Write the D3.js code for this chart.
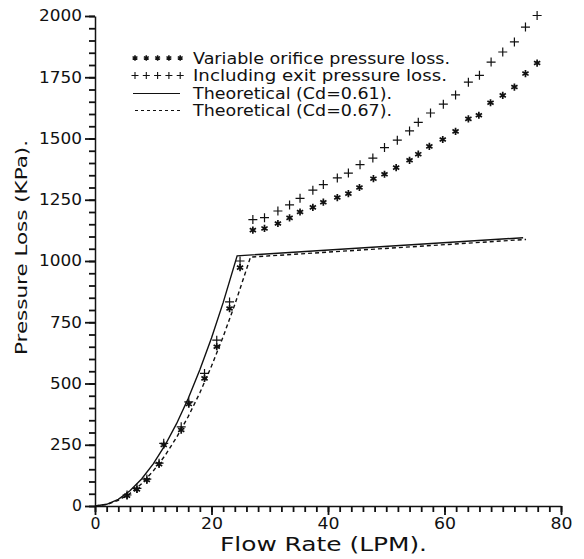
<!DOCTYPE html>
<html>
<head>
<meta charset="utf-8">
<script src="https://cdn.jsdelivr.net/npm/d3@7"></script>
<style>
	body { margin: 0; background: #fff; }
	text { font-family: "DejaVu Sans", sans-serif; fill: #111; }
</style>
</head>
<body>
<div id="chart"></div>
<script>
//Flow rate (LPM) and pressure loss (KPa)
var starFlow = [5.5, 7.2, 8.9, 11.0, 11.8, 14.8, 16.1, 18.8, 20.9, 23.1, 24.9,
	27.1, 29.1, 31.4, 33.4, 35.2, 37.4, 39.2, 41.6, 43.5, 45.4, 47.8, 49.7, 51.7, 54.0,
	55.5, 57.4, 59.7, 61.9, 64.1, 65.9, 67.9, 70.0, 72.0, 73.9, 75.9];
var starLoss = [42, 68, 106, 171, 249, 310, 416, 521, 650, 806, 973,
	1126, 1133, 1153, 1176, 1200, 1219, 1240, 1259, 1275, 1300, 1336, 1354, 1381, 1411,
	1436, 1468, 1496, 1529, 1580, 1595, 1646, 1676, 1710, 1765, 1808];

var plusFlow = [5.5, 7.2, 8.9, 11.0, 11.8, 14.8, 16.1, 18.8, 20.9, 23.1, 24.9,
	27.1, 29.1, 31.4, 33.4, 35.2, 37.4, 39.2, 41.6, 43.5, 45.5, 47.7, 49.7, 51.9, 54.0,
	55.5, 57.6, 59.8, 61.9, 64.1, 66.0, 68.0, 70.0, 72.0, 73.9, 75.9];
var plusLoss = [45, 72, 110, 175, 256, 323, 425, 541, 677, 833, 1000,
	1169, 1177, 1204, 1229, 1256, 1289, 1312, 1339, 1359, 1393, 1420, 1463, 1493, 1531,
	1566, 1604, 1640, 1678, 1730, 1758, 1812, 1853, 1894, 1955, 2002];

var theo61Flow = [0, 2, 4, 6, 8, 10, 12, 14, 16, 18, 20, 22, 24.4, 73.5];
var theo61Loss = [0, 7, 27, 62, 110, 172, 247, 336, 439, 556, 686, 830, 1021, 1095];
var theo67Flow = [0, 2, 4, 6, 8, 10, 12, 14, 16, 18, 20, 22, 24, 26.7, 74];
var theo67Loss = [0, 6, 23, 51, 91, 143, 205, 280, 365, 462, 571, 691, 822, 1016, 1088];

var xMajor = [0, 20, 40, 60, 80];
var yMajor = [0, 250, 500, 750, 1000, 1250, 1500, 1750, 2000];

var legendLabels = ["Variable orifice pressure loss.", "Including exit pressure loss.",
	"Theoretical (Cd=0.61).", "Theoretical (Cd=0.67)."];

function zip(a, b) { return a.map(function(d, i) { return [d, b[i]]; }); }

var width = 584, height = 559;

var svg = d3.select("#chart").append("svg")
	.attr("width", width)
	.attr("height", height);

///////////////////////////////// Scales //////////////////////////////////

var x = d3.scaleLinear().domain([0, 80]).range([95, 561]);
var y = d3.scaleLinear().domain([0, 2000]).range([506, 16]);

////////////////////////////////// Axes ///////////////////////////////////

function inkAxis(g) {
	g.selectAll("line").attr("stroke", "#111").attr("stroke-width", 1.8);
	g.selectAll("path").attr("stroke", "#111").attr("stroke-width", 1.5);
}

//minor ticks first, then the major ones with labels
svg.append("g")
	.attr("transform", "translate(0," + y(0) + ")")
	.call(d3.axisBottom(x).tickValues(d3.range(0, 81, 2)).tickSize(6).tickSizeOuter(0).tickFormat(""))
	.call(inkAxis);
var xAxis = svg.append("g")
	.attr("transform", "translate(0," + y(0) + ")")
	.call(d3.axisBottom(x).tickValues(xMajor).tickSize(9).tickSizeOuter(0).tickPadding(3).tickFormat(d3.format("d")))
	.call(inkAxis);
xAxis.select(".domain").remove();
xAxis.selectAll("text")
	.style("font-size", "16px")
	.attr("textLength", function(d) { return String(d).length * 12 - 2; })
	.attr("lengthAdjust", "spacingAndGlyphs");

svg.append("g")
	.attr("transform", "translate(" + x(0) + ",0)")
	.call(d3.axisLeft(y).tickValues(d3.range(0, 2001, 50)).tickSize(6).tickSizeOuter(0).tickFormat(""))
	.call(inkAxis);
var yAxis = svg.append("g")
	.attr("transform", "translate(" + x(0) + ",0)")
	.call(d3.axisLeft(y).tickValues(yMajor).tickSize(10).tickSizeOuter(0).tickPadding(3).tickFormat(d3.format("d")))
	.call(inkAxis);
yAxis.select(".domain").remove();
yAxis.selectAll("text")
	.style("font-size", "15px")
	.attr("textLength", function(d) { return String(d).length * 11 - 1; })
	.attr("lengthAdjust", "spacingAndGlyphs");

//axis titles
svg.append("text")
	.attr("x", 220)
	.attr("y", 551)
	.style("font-size", "20px")
	.attr("textLength", 207)
	.attr("lengthAdjust", "spacingAndGlyphs")
	.text("Flow Rate (LPM).");
svg.append("text")
	.attr("transform", "translate(27,355) rotate(-90)")
	.style("font-size", "16.5px")
	.attr("textLength", 215)
	.attr("lengthAdjust", "spacingAndGlyphs")
	.text("Pressure Loss (KPa).");

////////////////////////////////// Lines //////////////////////////////////

var line = d3.line()
	.x(function(d) { return x(d[0]); })
	.y(function(d) { return y(d[1]); });

svg.append("path")
	.datum(zip(theo61Flow, theo61Loss))
	.attr("d", line)
	.attr("fill", "none")
	.attr("stroke", "#111")
	.attr("stroke-width", 1.4);
svg.append("path")
	.datum(zip(theo67Flow, theo67Loss))
	.attr("d", line)
	.attr("fill", "none")
	.attr("stroke", "#111")
	.attr("stroke-width", 1.4)
	.attr("stroke-dasharray", "4,3");

///////////////////////////////// Markers /////////////////////////////////

function starPath(r) {
	var p = "";
	[90, 30, -30].forEach(function(a) {
		var dx = r * Math.cos(a * Math.PI / 180), dy = r * Math.sin(a * Math.PI / 180);
		p += "M" + (-dx) + "," + (-dy) + "L" + dx + "," + dy;
	});
	return p;
}
function plusPath(r) {
	return "M" + (-r) + ",0L" + r + ",0M0," + (-r) + "L0," + r;
}

svg.selectAll(".star")
	.data(zip(starFlow, starLoss))
	.enter().append("path")
	.attr("class", "star")
	.attr("transform", function(d) { return "translate(" + x(d[0]) + "," + y(d[1]) + ")"; })
	.attr("d", starPath(3.6))
	.attr("stroke", "#111")
	.attr("stroke-width", 1.7);

svg.selectAll(".plus")
	.data(zip(plusFlow, plusLoss))
	.enter().append("path")
	.attr("class", "plus")
	.attr("transform", function(d) { return "translate(" + x(d[0]) + "," + y(d[1]) + ")"; })
	.attr("d", plusPath(4.5))
	.attr("stroke", "#111")
	.attr("stroke-width", 1.2);

////////////////////////////////// Legend /////////////////////////////////

var legend = svg.append("g").attr("transform", "translate(133,0)");
var rowY = [58, 75.5, 93.5, 110.5];
var symX = d3.range(5).map(function(i) { return 2 + i * 11.3; });

legend.selectAll(".lstar")
	.data(symX)
	.enter().append("path")
	.attr("transform", function(d) { return "translate(" + d + "," + rowY[0] + ")"; })
	.attr("d", starPath(2.8))
	.attr("stroke", "#111")
	.attr("stroke-width", 1.5);
legend.selectAll(".lplus")
	.data(symX)
	.enter().append("path")
	.attr("transform", function(d) { return "translate(" + d + "," + rowY[1] + ")"; })
	.attr("d", plusPath(3.5))
	.attr("stroke", "#111")
	.attr("stroke-width", 1.1);
legend.append("line")
	.attr("x1", 0).attr("x2", 47)
	.attr("y1", rowY[2]).attr("y2", rowY[2])
	.attr("stroke", "#111").attr("stroke-width", 1.2);
legend.append("line")
	.attr("x1", 2).attr("x2", 47)
	.attr("y1", rowY[3]).attr("y2", rowY[3])
	.attr("stroke", "#111").attr("stroke-width", 1.2)
	.attr("stroke-dasharray", "3,3");

var textLen = [257, 254, 199, 199];
legend.selectAll(".ltext")
	.data(legendLabels)
	.enter().append("text")
	.attr("x", 60)
	.attr("y", function(d, i) { return rowY[i] + 5.5; })
	.style("font-size", "15.5px")
	.attr("textLength", function(d, i) { return textLen[i]; })
	.attr("lengthAdjust", "spacingAndGlyphs")
	.text(function(d) { return d; });
</script>
</body>
</html>
